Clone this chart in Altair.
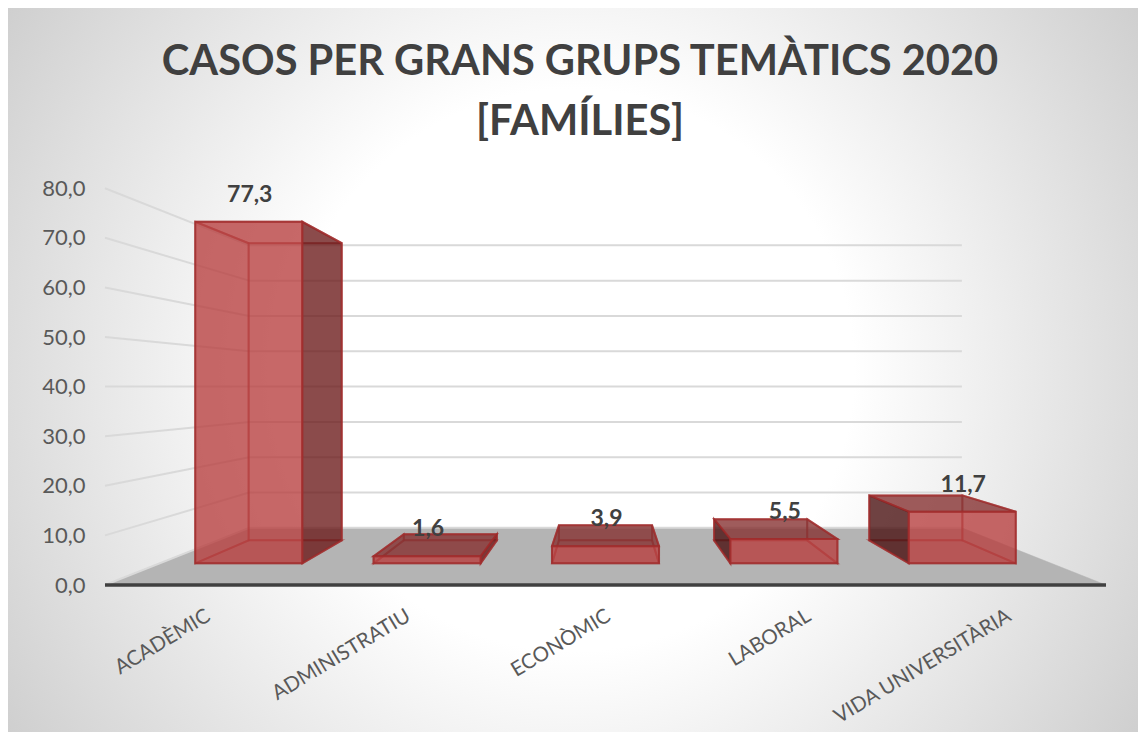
import json
import altair as alt
import pandas as pd

categories = ["ACADÈMIC", "ADMINISTRATIU", "ECONÒMIC", "LABORAL", "VIDA UNIVERSITÀRIA"]
values = [77.3, 1.6, 3.9, 5.5, 11.7]
y_ticks = [0, 10, 20, 30, 40, 50, 60, 70, 80]
x_ticks = [0.5, 1.5, 2.5, 3.5, 4.5]
title_lines = ["CASOS PER GRANS GRUPS TEMÀTICS 2020", "[FAMÍLIES]"]

# one-point perspective in data units
VP_C, VP_V = 2.5, 40.0
K_WALL, K_FRONT, K_BACK = 0.712, 0.891, 0.775
BAR_GAP = 0.2

X_DOMAIN = [(8 - 105) / 200.2, (1138 - 105) / 200.2]
Y_DOMAIN = [(585 - 732) / 4.96, (585 - 8) / 4.96]
xs = alt.Scale(domain=X_DOMAIN, nice=False, zero=False)
ys = alt.Scale(domain=Y_DOMAIN, nice=False, zero=False)

XAX = alt.Axis(
    values=x_ticks, title=None,
    labelExpr=json.dumps(categories, ensure_ascii=False) + "[floor(datum.value)]",
    labelAngle=-31, labelAlign="right", labelBaseline="middle",
    labelFont="Lato", labelFontSize=20.5, labelColor="#595959", labelLimit=400,
    labelOverlap=False, labelBound=False, labelFlush=False, labelPadding=0,
    labelOffset=3, domain=False, ticks=False, tickSize=0, grid=False, offset=-118,
    zindex=1,
)
YAX = alt.Axis(
    values=y_ticks, title=None,
    labelExpr="replace(format(datum.value,'.1f'),'.',',')",
    labelFont="Lato", labelFontSize=22, labelColor="#595959",
    labelOverlap=False, labelBound=False, labelFlush=False, labelPadding=0,
    domain=False, ticks=False, tickSize=0, grid=False, offset=-77,
    zindex=1,
)
X = alt.X("x:Q", scale=xs, axis=XAX)
Y = alt.Y("y:Q", scale=ys, axis=YAX)


def proj(c, v, k):
    return VP_C + k * (c - VP_C), VP_V + k * (v - VP_V)


def band(points):
    """Convex polygon -> x / y / y2 rows for an area mark."""
    rows = []
    n = len(points)
    for x in sorted({p[0] for p in points}):
        hits = []
        for i in range(n):
            (x0, y0), (x1, y1) = points[i], points[(i + 1) % n]
            lo, hi = min(x0, x1), max(x0, x1)
            if lo - 1e-9 <= x <= hi + 1e-9:
                if abs(x1 - x0) < 1e-9:
                    hits += [y0, y1]
                else:
                    hits.append(y0 + (y1 - y0) * (x - x0) / (x1 - x0))
        rows.append({"x": x, "y": min(hits), "y2": max(hits)})
    return pd.DataFrame(rows)


def face(points, fill="transparent", fill_op=0.0, stroke="#A02C2C", stroke_op=0.8, sw=2.0):
    return alt.Chart(band(points)).mark_area(
        fill=fill, fillOpacity=fill_op, stroke=stroke, strokeOpacity=stroke_op,
        strokeWidth=sw, strokeJoin="miter",
    ).encode(x=X, y=Y, y2="y2:Q")


def seg(p0, p1, color, width):
    df = pd.DataFrame([{"x": p0[0], "y": p0[1], "o": 0}, {"x": p1[0], "y": p1[1], "o": 1}])
    return alt.Chart(df).mark_line(color=color, strokeWidth=width).encode(x=X, y=Y, order="o:Q")


gradient = alt.RadialGradient(
    gradient="radial", x1=0.5, y1=0.5, r1=0, x2=0.5, y2=0.5, r2=0.71,
    stops=[
        alt.GradientStop(offset=0, color="#FFFFFF"),
        alt.GradientStop(offset=0.35, color="#FFFFFF"),
        alt.GradientStop(offset=1, color="#BFBFBF"),
    ],
)

layers = []

# chart-area background spanning the scale domains
bg = pd.DataFrame({"x": [X_DOMAIN[0]], "x2": [X_DOMAIN[1]], "y": [Y_DOMAIN[0]], "y2": [Y_DOMAIN[1]]})
layers.append(alt.Chart(bg).mark_rect(fill=gradient).encode(x=X, x2="x2:Q", y=Y, y2="y2:Q"))

# floor
layers.append(face([proj(0, 0, 1), proj(0, 0, K_WALL), proj(5, 0, K_WALL), proj(5, 0, 1)],
                   fill="#B4B4B4", fill_op=1, stroke="#B4B4B4", stroke_op=1, sw=0.5))

# gridlines on the left wall and back wall
GRID = "#D9D9D9"
for t in y_ticks:
    if t > 0:
        layers.append(seg(proj(0, t, K_WALL), proj(5, t, K_WALL), GRID, 2))
    layers.append(seg(proj(0, t, 1), proj(0, t, K_WALL), GRID, 2))
layers.append(seg(proj(0, 0, K_WALL), proj(5, 0, K_WALL), GRID, 2))

# base line
layers.append(seg((0, 0), (5, 0), "#404040", 3.5))

# bars
OP = 0.79
for i, v in enumerate(values):
    c0, c1 = i + BAR_GAP, i + 1 - BAR_GAP
    fb0, fb1 = proj(c0, 0, K_FRONT), proj(c1, 0, K_FRONT)
    ft0, ft1 = proj(c0, v, K_FRONT), proj(c1, v, K_FRONT)
    bb0, bb1 = proj(c0, 0, K_BACK), proj(c1, 0, K_BACK)
    bt0, bt1 = proj(c0, v, K_BACK), proj(c1, v, K_BACK)
    # floor of the column, back, hidden edges
    layers.append(face([fb0, bb0, bb1, fb1], fill="#A03030", fill_op=0.05, stroke_op=0.5))
    layers.append(face([bb0, bt0, bt1, bb1], stroke_op=0.5))
    # inner side walls (seen from inside)
    if c0 <= VP_C:
        layers.append(face([fb0, ft0, bt0, bb0], stroke_op=0.5))
    if c1 >= VP_C:
        layers.append(face([fb1, ft1, bt1, bb1], stroke_op=0.5))
    # top
    if v < VP_V:
        layers.append(face([ft0, bt0, bt1, ft1], fill="#853030", fill_op=OP))
    else:
        layers.append(face([ft0, bt0, bt1, ft1], stroke_op=0.6))
    # outer side walls
    if c1 < VP_C:
        layers.append(face([fb1, ft1, bt1, bb1], fill="#6C1B1B", fill_op=OP))
    if c0 > VP_C:
        layers.append(face([fb0, ft0, bt0, bb0], fill="#4A1010", fill_op=OP))
    # front
    layers.append(face([fb0, ft0, ft1, fb1], fill="#B83F3F", fill_op=OP))

# data labels, anchored on the top of each column's front face
lab = pd.DataFrame({
    "x": [proj(i + 0.5, v, K_FRONT)[0] for i, v in enumerate(values)],
    "y": [proj(i + 0.5, v, K_FRONT)[1] for i, v in enumerate(values)],
    "t": [f"{v:.1f}".replace(".", ",") for v in values],
})
layers.append(
    alt.Chart(lab).mark_text(font="Lato", fontSize=23, fontWeight="bold", color="#404040",
                             dy=-27, dx=1).encode(x=X, y=Y, text="t:N")
)

chart = (
    alt.layer(*layers)
    .properties(
        width=1130, height=724,
        autosize=alt.AutoSizeParams(type="none"),
        padding=0,
        background="white",
        title=alt.TitleParams(
            text=title_lines, font="Lato", fontSize=41.6, fontWeight="bold", color="#404040",
            lineHeight=60, anchor="start", align="center", dx=572, offset=-136, frame="group",
        ),
    )
    .configure_view(stroke=None)
)

chart.save("out.html", embed_options={"renderer": "svg", "actions": False})
